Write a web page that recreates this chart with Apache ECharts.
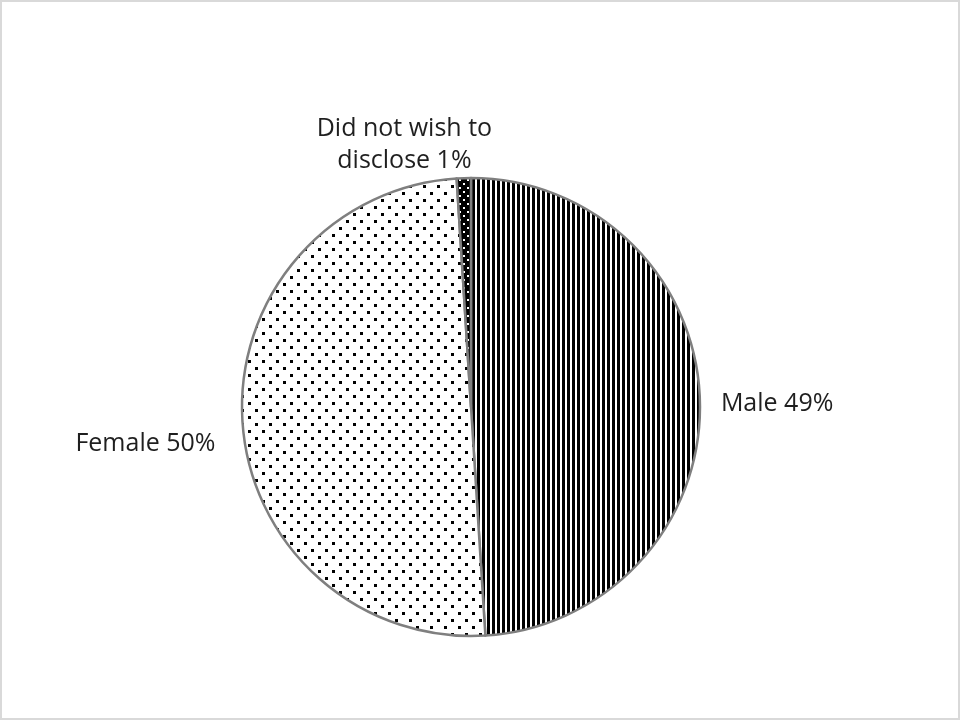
<!DOCTYPE html>
<html>

<head>
    <meta charset="utf-8">
    <title>Gender pie</title>
    <script src="https://cdn.jsdelivr.net/npm/echarts@6/dist/echarts.min.js"></script>
    <style>
        html, body { margin: 0; padding: 0; background: #fff; }
        #pieChart { width: 960px; height: 720px; box-sizing: border-box; border: 2px solid #d9d9d9; }
    </style>
</head>

<body>
    <div id="pieChart"></div>

    <script>
        // categories and values
        var categories = ['Male', 'Female', 'Did not wish to\ndisclose'];
        var values = [49, 50, 1];

        // small tiles for the fill patterns
        function makeTile(w, h, draw) {
            var c = document.createElement('canvas');
            c.width = w;
            c.height = h;
            draw(c.getContext('2d'));
            return c;
        }

        // vertical stripes
        var stripeTile = makeTile(5, 5, function (ctx) {
            ctx.fillStyle = '#fff';
            ctx.fillRect(0, 0, 5, 5);
            ctx.fillStyle = '#000';
            ctx.fillRect(0, 0, 3, 5);
        });

        // sparse black dots on white
        var dotTile = makeTile(14, 14, function (ctx) {
            ctx.fillStyle = '#fff';
            ctx.fillRect(0, 0, 14, 14);
            ctx.fillStyle = '#000';
            ctx.fillRect(1, 1, 3, 3);
            ctx.fillRect(8, 8, 3, 3);
        });

        // white dots on black
        var darkTile = makeTile(8, 8, function (ctx) {
            ctx.fillStyle = '#000';
            ctx.fillRect(0, 0, 8, 8);
            ctx.fillStyle = '#fff';
            ctx.fillRect(1, 1, 2, 2);
            ctx.fillRect(5, 5, 2, 2);
        });

        var fills = [stripeTile, dotTile, darkTile];

        // nudges so the labels sit where the original puts them
        var labelShift = [
            { dx: 4, dy: 4 },
            { dx: -10, dy: 22 },
            { dx: -54, dy: -21, align: 'center' }
        ];

        var pieChart = echarts.init(document.getElementById('pieChart'));

        var options = {
            animation: false,
            series: [
                {
                    type: 'pie',
                    center: [469, 405],
                    radius: 229,
                    startAngle: 90,
                    clockwise: true,
                    label: {
                        show: true,
                        position: 'outside',
                        formatter: '{b} {d}%',
                        fontFamily: 'Open Sans',
                        fontSize: 25,
                        lineHeight: 32,
                        color: '#1f1f1f'
                    },
                    labelLine: {
                        show: false,
                        length: 12,
                        length2: 0
                    },
                    labelLayout: function (params) {
                        return labelShift[params.dataIndex];
                    },
                    emphasis: { disabled: true },
                    data: categories.map(function (name, i) {
                        return {
                            name: name,
                            value: values[i],
                            itemStyle: {
                                color: { image: fills[i], repeat: 'repeat' },
                                borderColor: '#7f7f7f',
                                borderWidth: 2.5
                            }
                        };
                    })
                }
            ]
        };

        pieChart.setOption(options);
    </script>
</body>

</html>
